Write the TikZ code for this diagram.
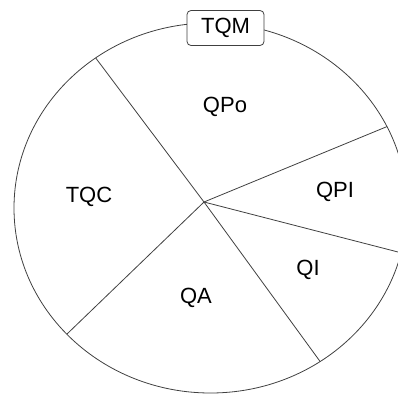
\documentclass[tikz,border=0pt]{standalone}
\usepackage{fontspec}
\setmainfont{Liberation Sans}
\usetikzlibrary{intersections,calc}
\begin{document}
\begin{tikzpicture}[x=1pt,y=-1pt,
  edge/.style={draw=black!75,line width=0.8pt},
  lbl/.style={font=\fontsize{22}{26}\selectfont,inner sep=0pt},
  titlebox/.style={draw=black!75,line width=0.8pt,fill=white,rounded corners=4pt,
    minimum width=77pt,minimum height=35pt,inner sep=0pt,font=\fontsize{22}{26}\selectfont}]
\useasboundingbox (0,0) rectangle (398,394);
\clip (0,0) rectangle (398,394);
\coordinate (c) at (204,202);
\coordinate (d1) at (95,57);
\coordinate (d2) at (386,127);
\coordinate (d3) at (398,252);
\coordinate (d4) at (319,360);
\coordinate (d5) at (67,334);
\draw[edge,name path=rim] (210.5,208) ellipse [x radius=196.5, y radius=185];
\foreach \i in {1,...,5}{
  \path[name path=ray\i] (c) -- ($(c)!1.5!(d\i)$);
  \path[name intersections={of=rim and ray\i,by={p\i}}];
  \draw[edge] (c) -- (p\i);
}
\node[lbl] (qpo) at (225,107) {QPo};
\node[lbl] (qpi) at (335,192) {QPI};
\node[lbl] (tqc) at (89,197) {TQC};
\node[lbl] (qi) at (308,270) {QI};
\node[lbl] (qa) at (196,298) {QA};
\node[titlebox] (tqm) at (225.5,28) {TQM};
\end{tikzpicture}
\end{document}
